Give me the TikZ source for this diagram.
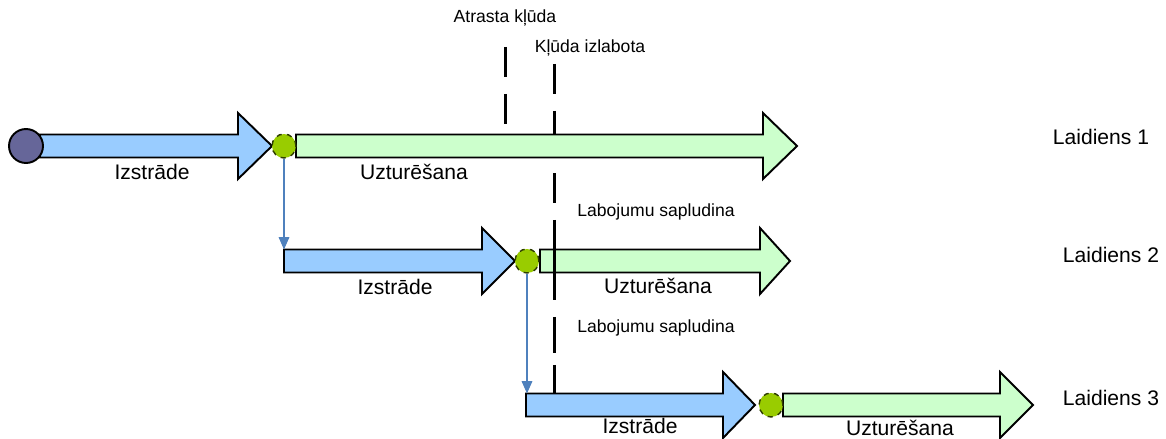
\documentclass[tikz,border=0pt]{standalone}
\usepackage{fontspec}
\setmainfont{Liberation Sans}
\usetikzlibrary{arrows.meta, positioning, calc}
\definecolor{devblue}{RGB}{153, 204, 255}
\definecolor{maintgreen}{RGB}{204, 255, 204}
\definecolor{startpurple}{RGB}{102, 102, 153}
\definecolor{mergegreen}{RGB}{153, 204, 0}
\definecolor{linkblue}{RGB}{79, 129, 189}

% fat arrow: start x, head base x, tip x, y, fill
\newcommand{\fatarrow}[5]{%
  \draw[fatline, fill=#5] (#1,#4-11.5) -- (#2,#4-11.5) -- (#2,#4-33) -- (#3,#4)
    -- (#2,#4+33) -- (#2,#4+11.5) -- (#1,#4+11.5) -- cycle;
}

\begin{document}
\begin{tikzpicture}[
    x=0.02cm, y=-0.02cm,
    fatline/.style={draw=black, line width=1.1pt, line join=miter},
    phase/.style={font=\fontsize{12}{14}\selectfont, inner sep=0pt},
    note/.style={font=\fontsize{10}{12}\selectfont, inner sep=0pt},
    release/.style={font=\fontsize{12}{14}\selectfont, inner sep=0pt},
    startdot/.style={circle, draw=black, line width=1.1pt, fill=startpurple, inner sep=0pt},
    mergedot/.style={circle, draw=black!70!mergegreen, dashed, line width=0.8pt, fill=mergegreen, inner sep=0pt},
    bugline/.style={line width=1.7pt, dash pattern=on 0.6cm off 0.34cm},
    link/.style={draw=linkblue, line width=0.8pt, -{Triangle[length=7pt, width=6pt]}}
]
\useasboundingbox (0,0) rectangle (1166,439);

% Laidiens 1
\fatarrow{40}{238}{272}{146}{devblue}
\fatarrow{296}{763}{797}{146}{maintgreen}
\node[startdot, minimum size=0.68cm] (start) at (26,146) {};
\node[mergedot, minimum size=0.48cm] (merge1) at (284,146) {};
\node[phase] (dev1) at (152,172) {Izstrāde};
\node[phase] (maint1) at (414,172) {Uzturēšana};
\node[release] (rel1) at (1101,137) {Laidiens 1};

% Laidiens 2
\fatarrow{284}{482}{515}{261}{devblue}
\fatarrow{540}{760}{790}{261}{maintgreen}
\coordinate (in2) at (284,249.5);
\node[mergedot, minimum size=0.48cm] (merge2) at (527,261) {};
\node[phase] (dev2) at (395,287) {Izstrāde};
\node[phase] (maint2) at (658,286) {Uzturēšana};
\node[release] (rel2) at (1111,255) {Laidiens 2};

% Laidiens 3
\fatarrow{526}{723}{755}{405}{devblue}
\fatarrow{783}{1000}{1033}{405}{maintgreen}
\coordinate (in3) at (527,393.5);
\node[mergedot, minimum size=0.48cm] (merge3) at (771,405) {};
\node[phase] (dev3) at (640,426) {Izstrāde};
\node[phase] (maint3) at (900,428) {Uzturēšana};
\node[release] (rel3) at (1111,398) {Laidiens 3};

% branches
\draw[link] (merge1.south) -- (in2);
\draw[link] (merge2.south) -- (in3);

% bug found / fixed
\node[note] (found) at (505,18) {Atrasta kļūda};
\node[note] (fixed) at (590,48) {Kļūda izlabota};
\coordinate (foundtop) at (505,47);
\coordinate (foundend) at (505,125);
\coordinate (fixtop) at (554,64);
\coordinate (fixrow1) at (554,134.5);
\coordinate (fixrow1b) at (554,173);
\coordinate (fixend) at (554,394);
\draw[bugline] (foundtop) -- (foundend);
\draw[bugline] (fixtop) -- (fixrow1);
\draw[bugline, dash pattern=on 0.6cm off 0.34cm on 1.6cm off 0.34cm on 0.72cm off 0.24cm on 0.6cm off 0.3cm] (fixrow1b) -- (fixend);
\node[note] (merged2) at (656,212) {Labojumu sapludina};
\node[note] (merged3) at (656,328) {Labojumu sapludina};

\end{tikzpicture}
\end{document}
